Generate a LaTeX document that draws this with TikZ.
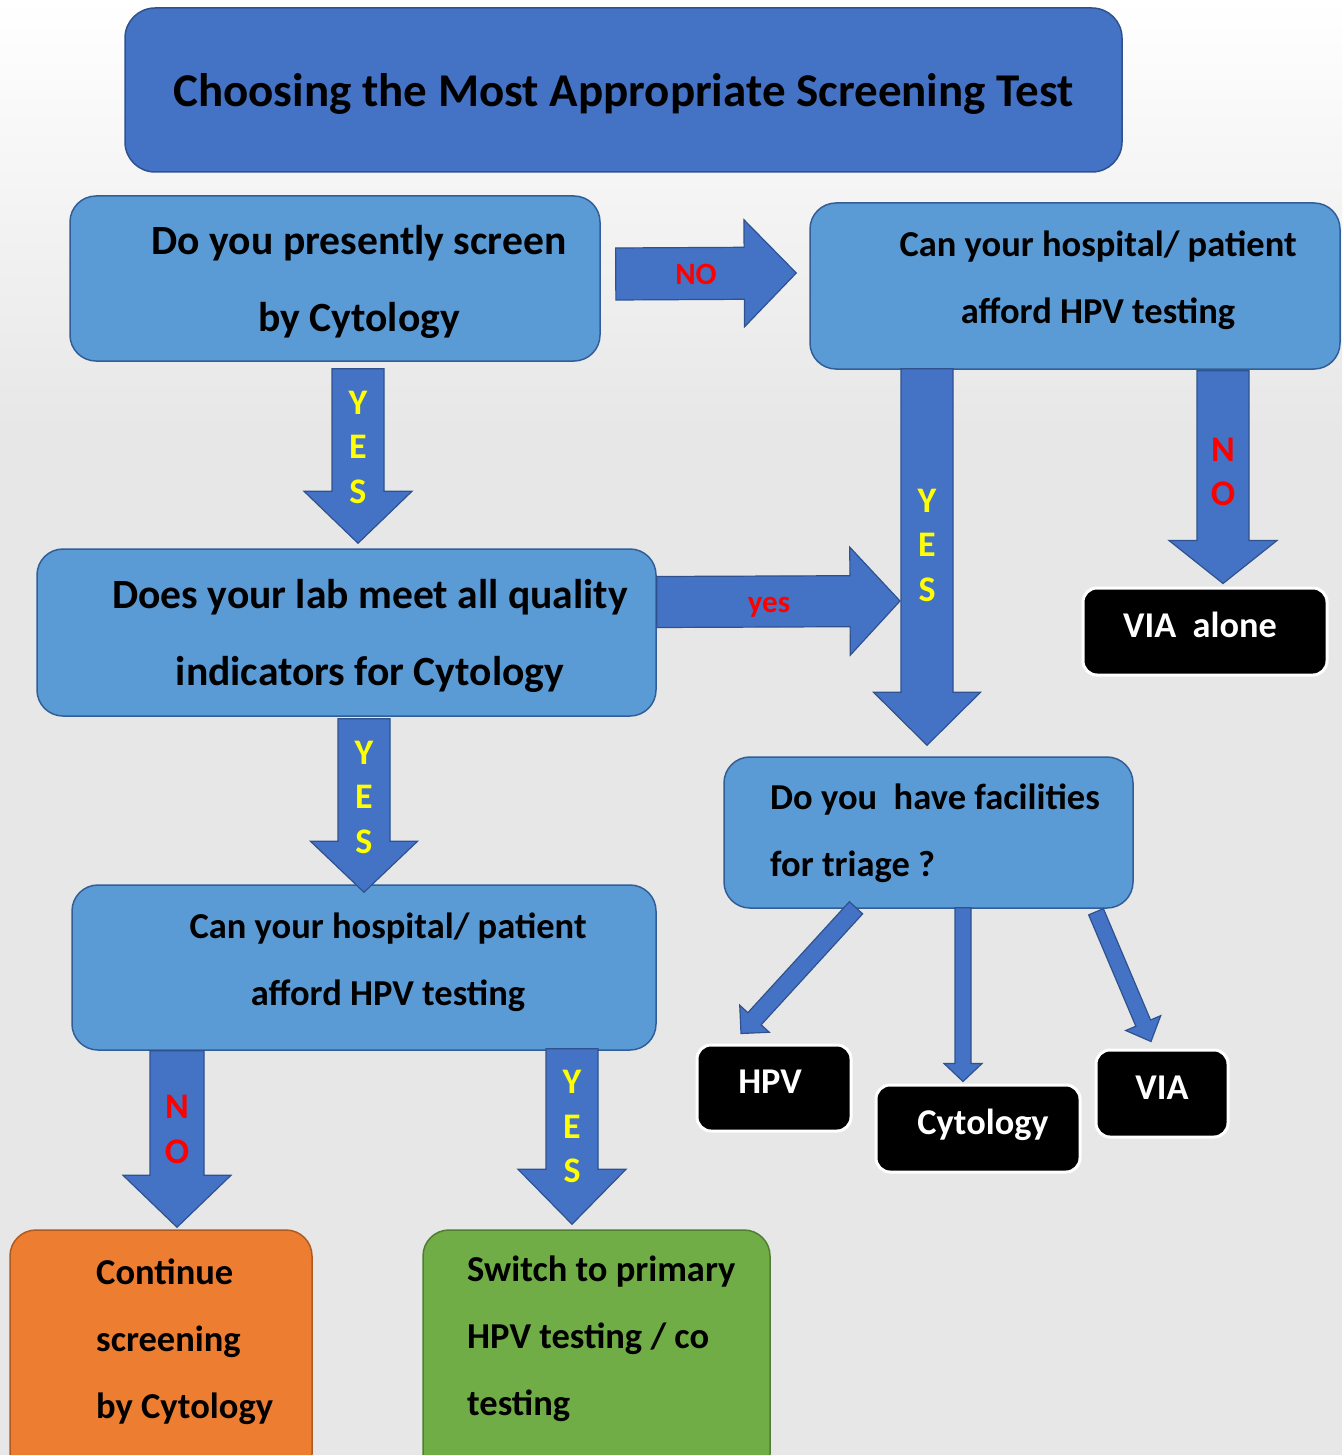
\documentclass[tikz,border=0pt]{standalone}
\usepackage{fontspec}
\setmainfont{Carlito}
\usetikzlibrary{calc}
\definecolor{title_blue}{RGB}{68,114,196}
\definecolor{title_edge}{RGB}{47,82,143}
\definecolor{box_blue}{RGB}{91,155,213}
\definecolor{box_edge}{RGB}{49,94,150}
\definecolor{cont_orange}{RGB}{237,125,49}
\definecolor{cont_edge}{RGB}{174,90,33}
\definecolor{switch_green}{RGB}{112,173,71}
\definecolor{switch_edge}{RGB}{80,126,50}
\definecolor{bg_gray}{RGB}{231,231,231}
\definecolor{yes_yellow}{RGB}{255,255,0}
\definecolor{no_red}{RGB}{255,0,0}
\tikzstyle{titlebox}=[rectangle,rounded corners=30pt,fill=title_blue,draw=title_edge,
  line width=1.5pt,inner sep=0pt,text height=33pt,text depth=0pt,
  font=\bfseries\fontsize{47}{50}\selectfont]
\tikzstyle{qbox}=[rectangle,rounded corners=26pt,fill=box_blue,draw=box_edge,
  line width=1.5pt,inner sep=0pt]
\tikzstyle{endbox}=[rectangle,rounded corners=14pt,fill=black,draw=white,
  line width=3pt,inner sep=0pt,text=white,text height=22pt,text depth=11pt,
  font=\bfseries\fontsize{36.3}{40}\selectfont]
\tikzstyle{qtext}=[align=center,inner sep=0pt,font=\bfseries\fontsize{41.6}{77}\selectfont]
\tikzstyle{stext}=[align=center,inner sep=0pt,font=\bfseries\fontsize{36.5}{67}\selectfont]
\tikzstyle{arrowbody}=[fill=title_blue,draw=title_edge,line width=1.2pt,line join=miter]
\tikzstyle{yesletters}=[align=center,inner sep=0pt,text=yes_yellow,
  font=\bfseries\fontsize{36}{44.5}\selectfont]
\tikzstyle{noletters}=[align=center,inner sep=0pt,text=no_red,
  font=\bfseries\fontsize{36}{44.5}\selectfont]
\tikzstyle{armlabel}=[inner sep=0pt,text=no_red,font=\bfseries\fontsize{31}{33}\selectfont]
% tail, tip, half shaft width, half head width, head length
\newcommand{\blockarrow}[5]{%
  \coordinate (ba_neck) at ($(#2)!#5!(#1)$);
  \draw[arrowbody] ($(#1)!#3!90:(#2)$) -- ($(ba_neck)!#3!90:(#2)$)
    -- ($(ba_neck)!#4!90:(#2)$) -- (#2) -- ($(ba_neck)!#4!-90:(#2)$)
    -- ($(ba_neck)!#3!-90:(#2)$) -- ($(#1)!#3!-90:(#2)$) -- cycle;
}

\begin{document}
\begin{tikzpicture}[x=1pt,y=-1pt]
    \useasboundingbox (0,0) rectangle (1342,1455);
    \clip (0,0) rectangle (1342,1455);
    \shade[top color=white,bottom color=bg_gray] (0,0) rectangle (1342,430);
    \fill[bg_gray] (0,429) rectangle (1342,1455);

    % boxes
    \node [style=titlebox,minimum width=997pt,minimum height=164pt] (title) at (623.5,90)
      {Choosing the Most Appropriate Screening Test};
    \node [style=qbox,minimum width=530pt,minimum height=165pt] (q1) at (335,278.5) {};
    \node [style=qbox,minimum width=530pt,minimum height=166pt] (q2) at (1075,286) {};
    \node [style=qbox,minimum width=619pt,minimum height=167pt] (q3) at (346.5,632.5) {};
    \node [style=qbox,minimum width=409pt,minimum height=151pt] (q4) at (928.5,832.5) {};
    \node [style=qbox,minimum width=584pt,minimum height=165pt] (q5) at (364,967.5) {};
    \node [style=endbox,minimum width=244pt,minimum height=87pt] (via) at (1205,631.5) {\hspace*{-10pt}VIA\ \ alone};
    \node [style=endbox,minimum width=154pt,minimum height=86pt] (hpv) at (774,1088) {\hspace*{-8pt}HPV};
    \node [style=endbox,minimum width=204pt,minimum height=87pt] (cyto) at (978,1128.5) {\hspace*{10pt}Cytology};
    \node [style=endbox,minimum width=132pt,minimum height=87pt] (viat) at (1162,1093.5) {VIA};
    \node [style=qbox,fill=cont_orange,draw=cont_edge,minimum width=302pt,minimum height=250pt] (cont) at (161,1355) {};
    \node [style=qbox,fill=switch_green,draw=switch_edge,minimum width=347pt,minimum height=250pt] (switch) at (596.5,1355) {};

    % box texts
    \node [style=qtext] (q1t) at (359,282) {Do you presently screen\\by Cytology};
    \node [style=stext] (q2t) at (1098,280) {Can your hospital/ patient\\afford HPV testing};
    \node [style=qtext] (q3t) at (370,636) {Does your lab meet all quality\\indicators for Cytology};
    \node [style=stext,align=left,anchor=west] (q4t) at (770,833) {Do you\ \ have facilities\\for triage ?};
    \node [style=stext] (q5t) at (388,962) {Can your hospital/ patient\\afford HPV testing};
    \node [style=stext,align=left,anchor=west] (contt) at (96,1342) {Continue\\screening\\by Cytology};
    \node [style=stext,align=left,anchor=west] (switcht) at (467,1339) {Switch to primary\\HPV testing / co\\testing};

    % arrow ends
    \coordinate (a1s) at ($(q1.east)+(15,-4.5)$);
    \coordinate (a1e) at ($(q2.west)+(-13,-13)$);
    \coordinate (a2s) at ($(q1.south)+(23,7)$);
    \coordinate (a2e) at ($(q3.north)+(11.5,-5)$);
    \coordinate (a3s) at ($(q3.east)+(0,-30.5)$);
    \coordinate (a3e) at (900,601);
    \coordinate (a4s) at ($(q2.south)+(-148,-1)$);
    \coordinate (a4e) at ($(q4.north)+(-1.5,-11)$);
    \coordinate (a5s) at ($(q2.south)+(148,1)$);
    \coordinate (a5e) at ($(via.north)+(18,-3)$);
    \coordinate (a6s) at ($(q3.south)+(17.5,2)$);
    \coordinate (a6e) at ($(q5.north)+(0,8)$);
    \coordinate (a7s) at ($(q5.south)+(-187,0)$);
    \coordinate (a7e) at ($(cont.north)+(16,-2)$);
    \coordinate (a8s) at ($(q5.south)+(208,-2)$);
    \coordinate (a8e) at ($(switch.north)+(-24.5,-5)$);
    \coordinate (t1s) at ($(q4.south)+(-72.5,-1)$);
    \coordinate (t1e) at ($(hpv.north)+(-33,-10)$);
    \coordinate (t2s) at ($(q4.south)+(34.5,-1)$);
    \coordinate (t2e) at ($(cyto.north)+(-15,-2)$);
    \coordinate (t3s) at ($(q4.south)+(167.5,3)$);
    \coordinate (t3e) at ($(viat.north)+(-11,-7)$);

    % arrows
    \blockarrow{a1s}{a1e}{26pt}{53.5pt}{52pt}
    \blockarrow{a2s}{a2e}{26pt}{54pt}{52pt}
    \blockarrow{a3s}{a3e}{25.5pt}{54pt}{50pt}
    \blockarrow{a4s}{a4e}{26pt}{53.5pt}{53pt}
    \blockarrow{a5s}{a5e}{26pt}{54pt}{43pt}
    \blockarrow{a6s}{a6e}{26pt}{53.5pt}{51pt}
    \blockarrow{a7s}{a7e}{27pt}{54pt}{52pt}
    \blockarrow{a8s}{a8e}{26pt}{54pt}{55pt}
    \blockarrow{t1s}{t1e}{9pt}{20pt}{20pt}
    \blockarrow{t2s}{t2e}{8pt}{19pt}{18pt}
    \blockarrow{t3s}{t3e}{8pt}{19pt}{20pt}

    % arrow labels
    \node [style=armlabel] (nolab) at (696,274) {NO};
    \node [style=armlabel] (yeslab) at (769,607) {yes};
    \node [style=yesletters] (y2) at (358,447) {Y\\E\\S};
    \node [style=yesletters] (y4) at (927,545) {Y\\E\\S};
    \node [style=yesletters] (y6) at (364,797) {Y\\E\\S};
    \node [style=yesletters] (y8) at (572,1126.5) {Y\\E\\S};
    \node [style=noletters] (n5) at (1223,472) {N\\O};
    \node [style=noletters] (n7) at (177,1129.5) {N\\O};
\end{tikzpicture}
\end{document}
